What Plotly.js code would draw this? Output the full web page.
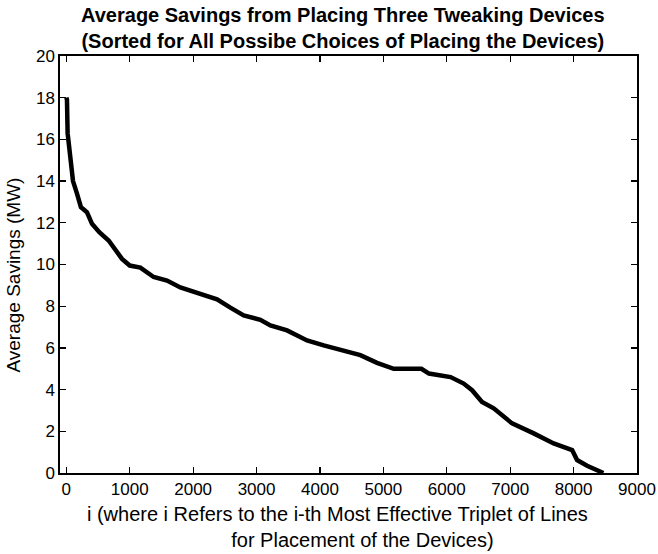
<!DOCTYPE html>
<html>
<head>
<meta charset="utf-8">
<script src="https://cdn.plot.ly/plotly-3.0.1.min.js"></script>
<style>html,body{margin:0;padding:0;background:#fff;}#chart{width:658px;height:554px;}</style>
</head>
<body>
<div id="chart"></div>
<script>
// Rank of the triplet (i) and its average savings (MW)
const rankI = [1, 10, 20, 40, 63, 105, 168, 230, 270, 326, 405, 520, 667, 773, 878, 1000, 1167, 1377, 1588, 1798, 2114, 2377, 2587, 2797, 3060, 3218, 3481, 3796, 4059, 4322, 4637, 4900, 5163, 5600, 5720, 6060, 6267, 6399, 6556, 6740, 7030, 7371, 7686, 7977, 8055, 8213, 8470];
const savingsMW = [18.0, 17.9, 16.3, 15.7, 15.0, 14.0, 13.4, 12.75, 12.65, 12.5, 11.95, 11.55, 11.15, 10.7, 10.27, 9.95, 9.85, 9.4, 9.23, 8.9, 8.6, 8.33, 7.93, 7.56, 7.35, 7.08, 6.84, 6.36, 6.12, 5.92, 5.65, 5.28, 5.0, 5.0, 4.77, 4.6, 4.29, 3.97, 3.41, 3.1, 2.38, 1.9, 1.42, 1.1, 0.62, 0.35, 0.0];
const xTicks = [0, 1000, 2000, 3000, 4000, 5000, 6000, 7000, 8000, 9000];
const yTicks = [0, 2, 4, 6, 8, 10, 12, 14, 16, 18, 20];

const font = 'Liberation Sans, Arial, Helvetica, sans-serif';
const sp = n => '&nbsp;'.repeat(n);

Plotly.newPlot('chart', [{
  x: rankI,
  y: savingsMW,
  type: 'scatter',
  mode: 'lines',
  line: {color: '#000', width: 4.5},
  hoverinfo: 'skip'
}], {
  width: 658,
  height: 554,
  margin: {l: 60, r: 21, t: 56, b: 81},
  paper_bgcolor: '#fff',
  plot_bgcolor: '#fff',
  showlegend: false,
  font: {family: font, color: '#000', size: 17},
  title: {
    text: '<b>Average Savings from Placing Three Tweaking Devices</b><br><b>(Sorted for All Possibe Choices of Placing the Devices)</b>',
    font: {family: font, size: 20, color: '#000'},
    x: 0.521, xanchor: 'center', y: 0.96, yanchor: 'top'
  },
  xaxis: {
    range: [-100, 9000],
    tickvals: xTicks,
    ticktext: xTicks.map(String),
    ticks: 'inside', ticklen: 6, tickwidth: 1.3, tickcolor: '#000',
    showline: true, linewidth: 1.6, linecolor: '#000', mirror: 'ticks',
    showgrid: false, zeroline: false,
    tickfont: {family: font, size: 17, color: '#000'},
    title: {
      text: 'i (where i Refers to the i-th Most Effective Triplet of Lines' + sp(4) + '<br>' + sp(5) + 'for Placement of the Devices)',
      font: {family: font, size: 20, color: '#000'},
      standoff: 9
    }
  },
  yaxis: {
    range: [0, 20],
    tickvals: yTicks,
    ticktext: yTicks.map(String),
    ticks: 'inside', ticklen: 6, tickwidth: 1.3, tickcolor: '#000',
    showline: true, linewidth: 1.6, linecolor: '#000', mirror: 'ticks',
    showgrid: false, zeroline: false,
    tickfont: {family: font, size: 17, color: '#000'},
    title: {
      text: 'Average Savings (MW)' + sp(4),
      font: {family: font, size: 19, color: '#000'},
      standoff: 10
    }
  }
}, {staticPlot: true, displayModeBar: false});
</script>
</body>
</html>
